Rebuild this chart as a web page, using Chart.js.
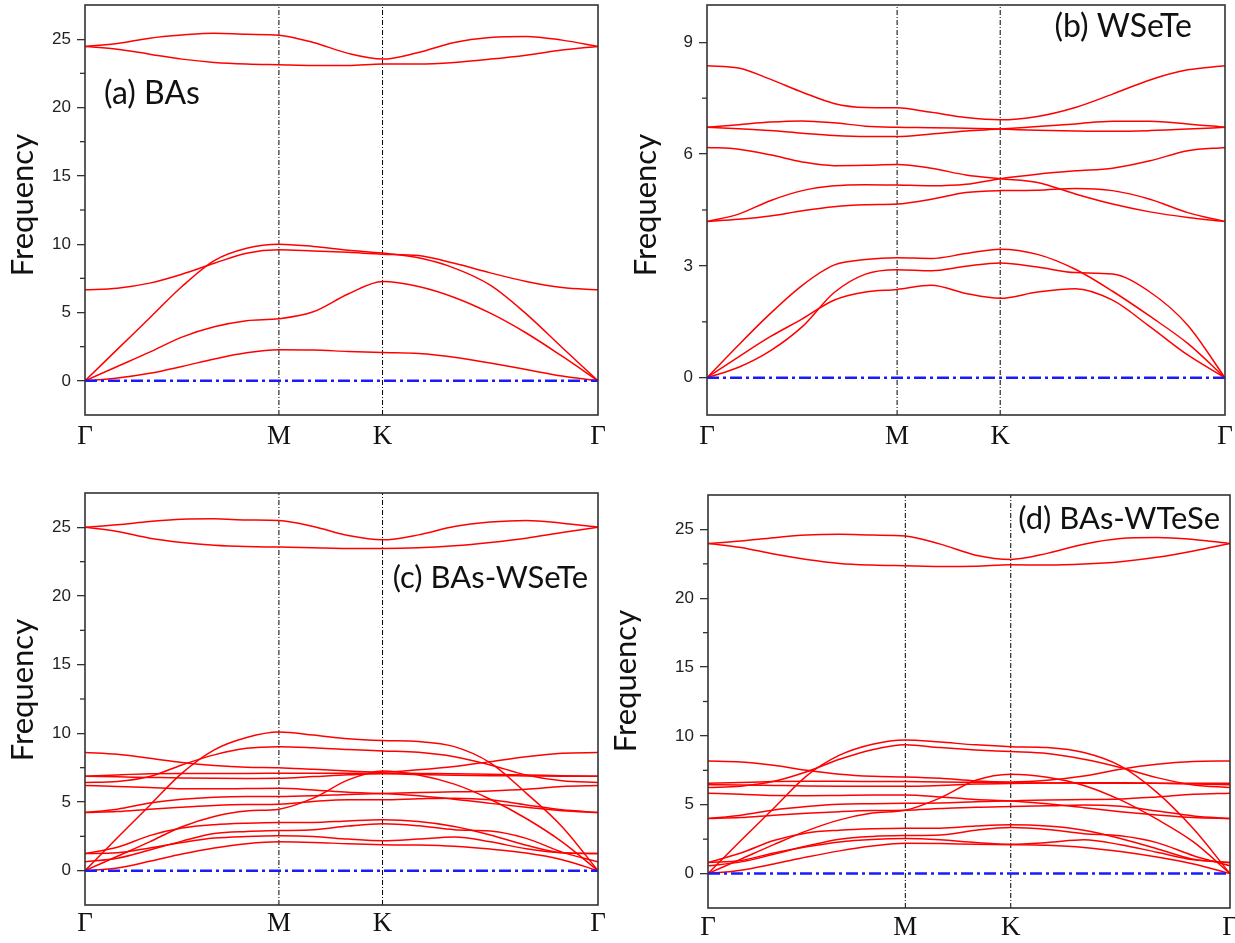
<!DOCTYPE html>
<html>
<head>
<meta charset="utf-8">
<script src="https://cdn.jsdelivr.net/npm/chart.js@4.4.0/dist/chart.umd.min.js"></script>
<style>
  body { margin:0; background:#fff; }
  #wrap { position:relative; width:1235px; height:943px; }
  .pane { position:absolute; }
</style>
</head>
<body>
<div id="wrap">
  <div class="pane" style="left:0;top:0;width:617px;height:470px"><canvas id="pa"></canvas></div>
  <div class="pane" style="left:617px;top:0;width:618px;height:470px"><canvas id="pb"></canvas></div>
  <div class="pane" style="left:0;top:470px;width:617px;height:473px"><canvas id="pc"></canvas></div>
  <div class="pane" style="left:600px;top:470px;width:635px;height:473px"><canvas id="pd"></canvas></div>
</div>
<script>
// high-symmetry path
const kLabels = ["Γ", "M", "K", "Γ"];
const kPos    = [0, 0.378, 0.58, 1];
const kPosB   = [0, 0.367, 0.566, 1];
// sample positions along Γ-M-K-Γ
const path  = [0, 0.063, 0.126, 0.189, 0.252, 0.315, 0.378, 0.445, 0.513, 0.58, 0.65, 0.72, 0.79, 0.86, 0.93, 1];
const pathB = [0, 0.061, 0.122, 0.184, 0.245, 0.306, 0.367, 0.433, 0.5, 0.566, 0.638, 0.711, 0.783, 0.855, 0.928, 1];

// y ticks
const ticksA = [0, 5, 10, 15, 20, 25];
const minorA = [2.5, 7.5, 12.5, 17.5, 22.5];
const ticksB = [0, 3, 6, 9];
const minorB = [1.5, 4.5, 7.5];

// (a) BAs
const aZA  = [0, 0.2, 0.55, 1.05, 1.6, 2.05, 2.27, 2.25, 2.15, 2.07, 2.0, 1.73, 1.3, 0.83, 0.35, 0];
const aTA  = [0, 1.05, 2.1, 3.2, 3.95, 4.4, 4.54, 5.05, 6.35, 7.27, 6.9, 6.1, 4.95, 3.5, 1.8, 0];
const aLA  = [0, 2.3, 4.6, 6.9, 8.8, 9.7, 10.0, 9.83, 9.56, 9.35, 9.0, 8.25, 7.0, 4.9, 2.44, 0];
const aOpt = [6.66, 6.78, 7.15, 7.8, 8.6, 9.34, 9.59, 9.5, 9.4, 9.27, 9.17, 8.6, 7.9, 7.27, 6.83, 6.66];
const aHi1 = [24.47, 24.68, 25.07, 25.3, 25.44, 25.36, 25.29, 24.76, 23.96, 23.54, 24.03, 24.76, 25.12, 25.2, 24.93, 24.47];
const aHi2 = [24.47, 24.27, 23.9, 23.54, 23.3, 23.18, 23.13, 23.08, 23.08, 23.18, 23.18, 23.3, 23.54, 23.83, 24.2, 24.47];

// (b) WSeTe
const bTop = [8.37, 8.31, 8.01, 7.66, 7.36, 7.25, 7.24, 7.12, 6.98, 6.92, 7.01, 7.25, 7.61, 7.99, 8.26, 8.37];
const bE1  = [6.72, 6.79, 6.86, 6.89, 6.84, 6.75, 6.72, 6.71, 6.69, 6.67, 6.64, 6.62, 6.61, 6.63, 6.67, 6.72];
const bE2  = [6.72, 6.68, 6.63, 6.56, 6.5, 6.47, 6.47, 6.54, 6.62, 6.67, 6.74, 6.81, 6.88, 6.88, 6.81, 6.72];
const bX   = [6.18, 6.13, 5.98, 5.79, 5.69, 5.70, 5.72, 5.62, 5.44, 5.34, 5.24, 4.93, 4.66, 4.45, 4.3, 4.19];
const bY   = [4.19, 4.39, 4.75, 5.02, 5.15, 5.18, 5.17, 5.15, 5.19, 5.34, 5.46, 5.55, 5.62, 5.82, 6.09, 6.18];
const bZ   = [4.19, 4.25, 4.34, 4.48, 4.59, 4.64, 4.66, 4.79, 4.97, 5.02, 5.03, 5.08, 5.02, 4.79, 4.43, 4.19];
const bA3  = [0, 0.88, 1.72, 2.48, 3.02, 3.17, 3.22, 3.2, 3.33, 3.45, 3.31, 2.91, 2.32, 1.65, 0.92, 0];
const bA1  = [0, 0.28, 0.72, 1.37, 2.28, 2.78, 2.9, 2.87, 2.99, 3.08, 2.97, 2.82, 2.78, 2.3, 1.41, 0];
const bA2  = [0, 0.56, 1.1, 1.58, 2.08, 2.3, 2.37, 2.48, 2.26, 2.13, 2.3, 2.39, 2.08, 1.37, 0.61, 0];

// (c) BAs-WSeTe
const cHi1 = [25.01, 25.18, 25.42, 25.59, 25.62, 25.54, 25.5, 25.06, 24.4, 24.09, 24.45, 25.06, 25.38, 25.5, 25.3, 25.01];
const cHi2 = [25.01, 24.7, 24.21, 23.9, 23.7, 23.6, 23.56, 23.51, 23.46, 23.46, 23.51, 23.66, 23.9, 24.21, 24.62, 25.01];
const cLA  = [0, 2.4, 4.75, 7.1, 8.8, 9.7, 10.1, 9.88, 9.6, 9.47, 9.4, 9.03, 7.85, 5.65, 3.2, 0];
const cOpt = [6.42, 6.49, 6.85, 7.7, 8.43, 8.91, 9.03, 8.95, 8.82, 8.72, 8.62, 8.3, 7.7, 6.97, 6.54, 6.42];
const c86  = [8.6, 8.47, 8.18, 7.87, 7.65, 7.53, 7.5, 7.38, 7.26, 7.17, 7.34, 7.58, 7.94, 8.3, 8.55, 8.6];
const cE1  = [6.87, 6.97, 7.05, 7.08, 7.08, 7.08, 7.09, 7.1, 7.1, 7.1, 7.08, 7.06, 7.02, 6.97, 6.92, 6.87];
const cE2  = [6.87, 6.83, 6.79, 6.75, 6.73, 6.72, 6.73, 6.85, 6.98, 7.05, 7.0, 6.95, 6.92, 6.9, 6.88, 6.87];
const cX   = [6.2, 6.13, 6.05, 5.96, 5.96, 5.98, 6.0, 5.88, 5.71, 5.62, 5.45, 5.2, 4.9, 4.62, 4.36, 4.24];
const cY   = [4.24, 4.48, 4.92, 5.2, 5.35, 5.4, 5.4, 5.45, 5.55, 5.62, 5.69, 5.74, 5.81, 5.93, 6.13, 6.2];
const cZ   = [4.24, 4.31, 4.48, 4.62, 4.75, 4.82, 4.84, 5.04, 5.16, 5.16, 5.23, 5.28, 5.16, 4.79, 4.43, 4.24];
const cTA  = [0, 1.05, 2.1, 3.2, 3.95, 4.35, 4.48, 5.28, 6.61, 7.26, 6.97, 6.3, 5.2, 3.8, 2.1, 0];
const cL4  = [1.25, 1.7, 2.55, 3.1, 3.35, 3.46, 3.51, 3.51, 3.62, 3.7, 3.58, 3.22, 2.6, 1.85, 1.3, 1.25];
const cL3  = [0.65, 0.9, 1.5, 2.15, 2.7, 2.86, 2.92, 2.98, 3.25, 3.42, 3.27, 2.98, 2.88, 2.35, 1.35, 0.65];
const cL2  = [1.25, 1.3, 1.65, 2.05, 2.37, 2.49, 2.54, 2.49, 2.3, 2.18, 2.3, 2.45, 2.1, 1.6, 1.3, 1.25];
const cL1  = [0, 0.2, 0.68, 1.21, 1.65, 1.96, 2.1, 2.06, 1.96, 1.89, 1.86, 1.77, 1.57, 1.28, 0.8, 0];

// (d) BAs-WTeSe
const dHi1 = [23.98, 24.15, 24.4, 24.59, 24.64, 24.59, 24.52, 23.93, 23.13, 22.82, 23.26, 23.93, 24.34, 24.42, 24.27, 23.98];
const dHi2 = [23.98, 23.69, 23.21, 22.82, 22.53, 22.41, 22.36, 22.31, 22.33, 22.43, 22.41, 22.48, 22.65, 22.97, 23.43, 23.98];
const dLA  = [0, 2.4, 4.75, 7.1, 8.6, 9.4, 9.71, 9.55, 9.35, 9.22, 9.15, 8.79, 7.82, 5.9, 3.25, 0];
const dOpt = [6.25, 6.35, 6.7, 7.4, 8.3, 9.0, 9.35, 9.15, 8.98, 8.86, 8.72, 8.3, 7.7, 6.97, 6.44, 6.25];
const d82  = [8.18, 8.11, 7.87, 7.5, 7.22, 7.07, 7.02, 6.92, 6.73, 6.66, 6.78, 7.09, 7.58, 7.94, 8.14, 8.18];
const dE1  = [6.56, 6.62, 6.68, 6.7, 6.7, 6.69, 6.68, 6.66, 6.63, 6.6, 6.58, 6.57, 6.56, 6.56, 6.56, 6.56];
const dE2  = [6.45, 6.43, 6.4, 6.37, 6.35, 6.34, 6.34, 6.4, 6.5, 6.55, 6.58, 6.6, 6.6, 6.57, 6.5, 6.45];
const d585 = [5.84, 5.76, 5.67, 5.66, 5.68, 5.7, 5.71, 5.57, 5.38, 5.28, 5.08, 4.79, 4.5, 4.26, 4.07, 4.0];
const dY   = [4.0, 4.24, 4.62, 4.87, 5.04, 5.08, 5.11, 5.13, 5.21, 5.28, 5.35, 5.38, 5.42, 5.57, 5.76, 5.84];
const dZ   = [4.0, 4.07, 4.24, 4.38, 4.5, 4.58, 4.6, 4.72, 4.82, 4.87, 4.92, 4.99, 4.89, 4.55, 4.19, 4.0];
const dTA  = [0, 1.05, 2.1, 3.1, 3.9, 4.4, 4.6, 5.5, 6.78, 7.22, 7.0, 6.4, 5.35, 3.95, 2.3, 0];
const dL4  = [0.8, 1.5, 2.4, 2.95, 3.15, 3.25, 3.29, 3.3, 3.45, 3.54, 3.45, 3.15, 2.55, 1.8, 1.05, 0.8];
const dL3  = [0.56, 0.85, 1.4, 2.0, 2.5, 2.7, 2.76, 2.8, 3.15, 3.34, 3.2, 2.9, 2.75, 2.25, 1.3, 0.56];
const dL2  = [0.8, 0.95, 1.5, 1.95, 2.3, 2.48, 2.54, 2.45, 2.25, 2.13, 2.25, 2.45, 2.1, 1.55, 1.0, 0.8];
const dL1  = [0, 0.25, 0.7, 1.2, 1.65, 2.0, 2.2, 2.18, 2.13, 2.1, 2.05, 1.9, 1.6, 1.2, 0.7, 0];

// frame, minor ticks, axis title and panel label
const framePlugin = {
  id: "frame",
  afterDatasetsDraw(chart, args, o) {
    const { ctx, chartArea: a, scales: { y } } = chart;
    ctx.save();
    ctx.strokeStyle = "#333";
    ctx.lineWidth = 1.3;
    o.minor.forEach(v => {
      const py = y.getPixelForValue(v);
      ctx.beginPath(); ctx.moveTo(a.left - 5, py); ctx.lineTo(a.left, py); ctx.stroke();
    });
    ctx.lineWidth = 1.6;
    ctx.strokeRect(a.left, a.top, a.right - a.left, a.bottom - a.top);

    ctx.fillStyle = "#111";
    ctx.textBaseline = "middle";
    ctx.font = o.size + "px Lato";
    ctx.textAlign = o.align;
    ctx.fillText(o.text, o.align === "left" ? a.left + o.dx : a.right - o.dx, a.top + o.dy);

    ctx.font = "31px Lato";
    ctx.textAlign = "center";
    ctx.translate(o.fx, o.fy);
    ctx.rotate(-Math.PI / 2);
    ctx.fillText("Frequency", 0, 0);
    ctx.restore();
  }
};

function drawPanel(id, xs, ks, bands, yMin, yMax, major, minor, label, box) {
  const datasets = [];
  datasets.push({ data:[{x:0,y:0},{x:1,y:0}], borderColor:"#1a1aff", borderWidth:2.5, borderDash:[12,4,3,4], pointRadius:0 });
  bands.forEach(b => datasets.push({
    data: xs.map((x, i) => ({ x, y: b[i] })),
    borderColor:"#ff0000", borderWidth:1.5, pointRadius:0, cubicInterpolationMode:"monotone"
  }));
  [ks[1], ks[2]].forEach(k => datasets.push({
    data:[{x:k,y:yMin},{x:k,y:yMax}], borderColor:"#000", borderWidth:1, borderDash:[5,2,1,2], pointRadius:0
  }));

  new Chart(document.getElementById(id), {
    type: "line",
    data: { datasets },
    options: {
      animation:false, responsive:true, maintainAspectRatio:false,
      layout:{ padding:{ left:0, right:box.right, top:box.top, bottom:0 } },
      plugins:{
        legend:{ display:false }, tooltip:{ enabled:false },
        frame:{ minor, text:label.text, size:label.size, align:label.align, dx:label.dx, dy:label.dy, fx:box.fx, fy:box.fy }
      },
      scales:{
        x:{
          type:"linear", min:0, max:1,
          afterBuildTicks: s => { s.ticks = ks.map(v => ({ value:v })); },
          afterFit: s => { s.height = box.xh; s.paddingLeft = 0; s.paddingRight = 0; },
          grid:{ display:false, drawTicks:false }, border:{ display:false },
          ticks:{ callback:(v, i) => kLabels[i], autoSkip:false, maxRotation:0,
                  font:{ family:"Liberation Serif", size:27 }, color:"#111", padding:box.lp }
        },
        y:{
          min:yMin, max:yMax,
          afterBuildTicks: s => { s.ticks = major.map(v => ({ value:v })); },
          afterFit: s => { s.width = box.yw; s.paddingTop = 0; s.paddingBottom = 0; },
          grid:{ drawOnChartArea:false, tickLength:8, color:"#333", lineWidth:1.3 },
          border:{ display:false },
          ticks:{ font:{ family:"Liberation Sans", size:17 }, color:"#222", padding:6 }
        }
      }
    },
    plugins:[framePlugin]
  });
}

drawPanel("pa", path, kPos, [aZA, aTA, aLA, aOpt, aHi1, aHi2], -2.5, 27.5, ticksA, minorA,
  { text:"(a) BAs", size:32, align:"left", dx:19, dy:89 },
  { right:19, top:5, xh:55, yw:85, lp:6, fx:23, fy:205 });

drawPanel("pb", pathB, kPosB, [bTop, bE1, bE2, bX, bY, bZ, bA3, bA1, bA2], -1, 10, ticksB, minorB,
  { text:"(b) WSeTe", size:32, align:"right", dx:33, dy:22 },
  { right:10, top:5, xh:55, yw:90, lp:6, fx:29, fy:205 });

drawPanel("pc", path, kPos, [cHi1, cHi2, cLA, cOpt, c86, cE1, cE2, cX, cY, cZ, cTA, cL4, cL3, cL2, cL1], -2.5, 27.5, ticksA, minorA,
  { text:"(c) BAs-WSeTe", size:31, align:"right", dx:10, dy:85 },
  { right:19, top:23, xh:38, yw:85, lp:3, fx:23, fy:220 });

drawPanel("pd", path, kPos, [dHi1, dHi2, dLA, dOpt, d82, dE1, dE2, d585, dY, dZ, dTA, dL4, dL3, dL2, dL1], -2.5, 27.5, ticksA, minorA,
  { text:"(d) BAs-WTeSe", size:31, align:"right", dx:10, dy:24 },
  { right:5, top:25, xh:35, yw:108, lp:4, fx:26, fy:211 });
</script>
</body>
</html>
